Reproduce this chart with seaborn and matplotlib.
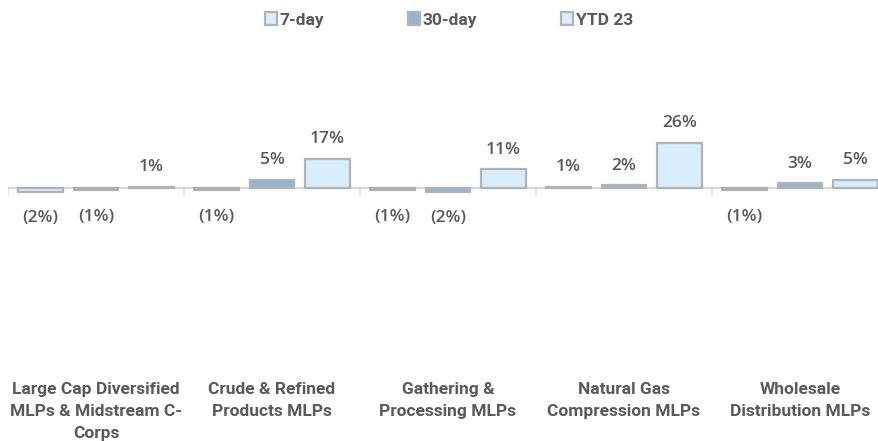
import numpy as np
import pandas as pd
import matplotlib
matplotlib.use("Agg")
import matplotlib.pyplot as plt
import seaborn as sns
from matplotlib.patches import Patch

sns.set_theme(style="white")
plt.rcParams["font.family"] = ["Roboto", "DejaVu Sans"]

# Datos del gráfico
categorias = [
    "Large Cap Diversified\nMLPs & Midstream C-\nCorps",
    "Crude & Refined\nProducts MLPs",
    "Gathering &\nProcessing MLPs",
    "Natural Gas\nCompression MLPs",
    "Wholesale\nDistribution MLPs",
]
periodos = ["7-day", "30-day", "YTD 23"]
dia7 = [-2, -1, -1, 1, -1]
dia30 = [-1, 5, -2, 2, 3]
ytd23 = [1, 17, 11, 26, 5]

colores = ["#d9ecfb", "#94b4d2", "#d9ecfb"]
borde = "#b3b3b3"
gris_texto = "#595959"

df = pd.DataFrame({
    "categoria": categorias * 3,
    "periodo": np.repeat(periodos, len(categorias)),
    "valor": dia7 + dia30 + ytd23,
})

fig = plt.figure(figsize=(8.79, 4.41), dpi=100)
W, H = 879, 441
ax = fig.add_axes([8 / W, 1 - 376 / H, 880 / W, 276 / H])

sns.barplot(data=df, x="categoria", y="valor", hue="periodo", order=categorias,
            hue_order=periodos, palette=colores, width=0.946, gap=0.19,
            edgecolor=borde, linewidth=1.6, saturation=1, errorbar=None,
            legend=False, ax=ax, zorder=3)

# línea del eje en cero y marcas entre categorías
ax.axhline(0, color="#d9d9d9", lw=1.6, zorder=2)
limites = np.arange(len(categorias)) - 0.5
ax.vlines(limites, -3.5, 0, color="#d9d9d9", lw=1.3, zorder=2)

ax.set_xlim(-0.5, len(categorias) - 0.5)
ax.set_ylim(-107, 50.5)
for s in ax.spines.values():
    s.set_visible(False)
ax.set_yticks([])
ax.set_xlabel("")
ax.set_ylabel("")
ax.tick_params(axis="x", length=0, pad=4)
for lbl in ax.get_xticklabels():
    lbl.set_fontweight("bold")
    lbl.set_fontsize(12.5)
    lbl.set_color(gris_texto)
    lbl.set_verticalalignment("top")
    lbl.set_linespacing(1.6)

# etiquetas de datos
for cont in ax.containers:
    for p in cont.patches:
        v = p.get_height()
        x = p.get_x() + p.get_width() / 2
        if v >= 0:
            txt, dy = f"{v:.0f}%", 14
        else:
            txt, dy = f"({abs(v):.0f}%)", -19
        ax.annotate(txt, (x, v), xytext=(0, dy), textcoords="offset points",
                    ha="center", va="center", fontsize=12.5,
                    fontweight="semibold", color=gris_texto,
                    family=["Open Sans", "DejaVu Sans"])

handles = [Patch(facecolor=c, edgecolor=borde, linewidth=1.6) for c in colores]
fig.legend(handles, periodos, loc="center", bbox_to_anchor=(449 / W, 1 - 20 / H),
           ncol=3, frameon=False, handlelength=0.72, handleheight=0.72,
           handletextpad=0.15, columnspacing=4.8,
           prop={"weight": "bold", "size": 12.5}, labelcolor=gris_texto)

fig.savefig("out.png", dpi=100)
